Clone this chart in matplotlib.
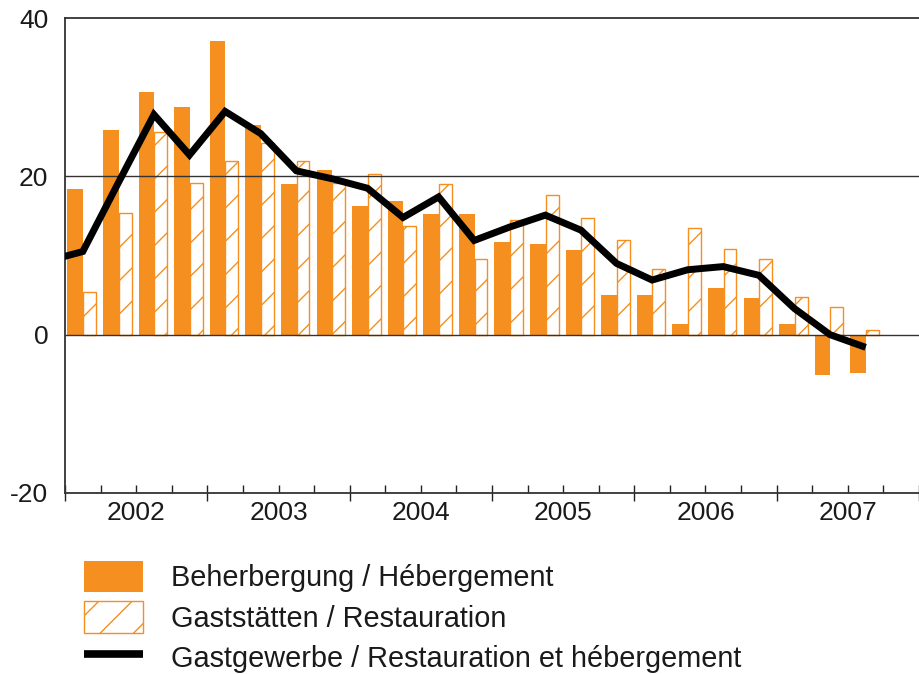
import numpy as np
import matplotlib
matplotlib.use("Agg")
import matplotlib.pyplot as plt
from matplotlib.patches import Patch
from matplotlib.lines import Line2D

plt.rcParams['font.family'] = ['Liberation Sans', 'DejaVu Sans']

# ---- data (quarters 2002Q1 .. 2007Q3) ----
years = ["2002", "2003", "2004", "2005", "2006", "2007"]
beherbergung = [18.4, 25.9, 30.6, 28.8,
                37.1, 26.5, 19.0, 20.8,
                16.3, 16.9, 15.3, 15.2,
                11.7, 11.5, 10.7, 5.0,
                5.0, 1.3, 5.9, 4.6,
                1.3, -5.1, -4.9]
gaststaetten = [5.4, 15.4, 25.6, 19.2,
                22.0, 24.2, 21.9, 19.2,
                20.3, 13.7, 19.0, 9.6,
                14.5, 17.7, 14.8, 11.9,
                8.3, 13.5, 10.8, 9.6,
                4.8, 3.5, 0.6]
# line starts with 2001Q4 (clipped at the left border)
gastgewerbe = [9.3,
               10.5, 19.2, 27.8, 22.7,
               28.2, 25.4, 20.7, 19.7,
               18.5, 14.8, 17.4, 11.9,
               13.6, 15.1, 13.2, 9.0,
               6.9, 8.2, 8.6, 7.5,
               3.3, 0.0, -1.6]
labels = ["Beherbergung / Hébergement",
          "Gaststätten / Restauration",
          "Gastgewerbe / Restauration et hébergement"]

orange = '#F58F1F'
txtcol = '#1a1a1a'
plt.rcParams['hatch.color'] = orange
plt.rcParams['hatch.linewidth'] = 1.0

fig = plt.figure(figsize=(9.19, 6.74), dpi=100)
ax = fig.add_axes([65/919, 1 - 493/674, 1 - 65/919, (493 - 18)/674])

n = len(beherbergung)
q = np.arange(n)
ax.bar(q + 0.07, beherbergung, width=0.44, align='edge', color=orange,
       linewidth=0, zorder=2)
ax.bar(q + 0.51, gaststaetten, width=0.36, align='edge', facecolor='white',
       edgecolor=orange, linewidth=1.0, hatch='/', zorder=2)

for yv in (0, 20):
    ax.axhline(yv, color='#333333', linewidth=1.0, zorder=3)

qx = np.arange(len(gastgewerbe)) - 1 + 0.5
ax.plot(qx, gastgewerbe, color='black', linewidth=5, solid_joinstyle='miter',
        solid_capstyle='butt', zorder=4)

ax.set_xlim(0, (919 - 65) / 35.9)
ax.set_ylim(-20, 40)
ax.set_yticks([-20, 0, 20, 40])
ax.set_yticklabels(["-20", "0", "20", "40"])
ax.tick_params(axis='y', length=0, pad=12, labelsize=19, labelcolor=txtcol)

nyears = len(years)
ax.set_xticks(np.arange(0, 4 * nyears + 1, 4))
ax.set_xticklabels([])
ax.set_xticks([k for k in range(0, 4 * nyears) if k % 4 != 0], minor=True)
ax.tick_params(axis='x', which='major', direction='inout', length=11, width=1.0, color='#222222')
ax.tick_params(axis='x', which='minor', direction='in', length=6, width=1.0, color='#222222')

sec = ax.secondary_xaxis('bottom')
sec.set_xticks(np.arange(nyears) * 4 + 2)
sec.set_xticklabels(years)
sec.tick_params(length=0, pad=6, labelsize=19, labelcolor=txtcol)
sec.spines['bottom'].set_visible(False)

ax.spines['right'].set_visible(False)
for s in ('left', 'top', 'bottom'):
    ax.spines[s].set_color('#333333')
    ax.spines[s].set_linewidth(1.3)

handles = [Patch(facecolor=orange, edgecolor=orange, linewidth=0),
           Patch(facecolor='white', edgecolor=orange, linewidth=1.0, hatch='/'),
           Line2D([], [], color='black', linewidth=5.5, solid_capstyle='butt')]
fig.legend(handles, labels, loc='upper left', bbox_to_anchor=(84/919, 1 - 561/674),
           frameon=False, fontsize=20.8, handlelength=2.05, handleheight=1.3,
           handletextpad=0.95, labelspacing=0.3, borderpad=0, borderaxespad=0,
           labelcolor=txtcol)

fig.savefig('out.png', dpi=100)
